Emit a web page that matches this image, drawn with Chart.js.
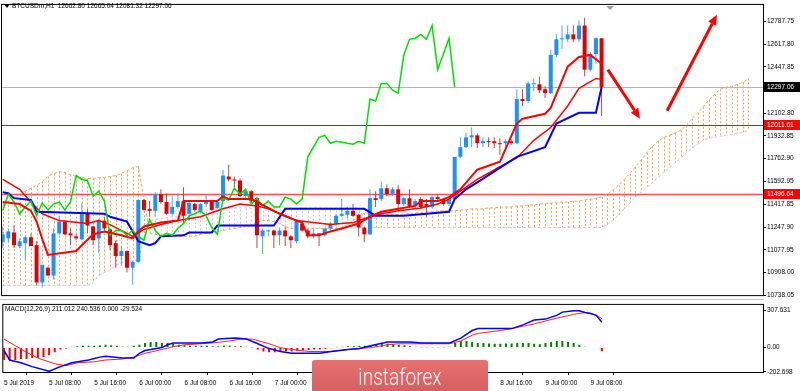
<!DOCTYPE html>
<html>
<head>
<meta charset="utf-8">
<script src="https://cdn.jsdelivr.net/npm/chart.js@4.4.1/dist/chart.umd.min.js"></script>
<style>
  body { margin: 0; background: #fff; width: 800px; height: 391px; overflow: hidden; position: relative; }
  canvas { position: absolute; left: 0; }
  #main { top: 0; }
  #macd { top: 300px; }
</style>
</head>
<body>
<canvas id="main" width="800" height="300"></canvas>
<canvas id="macd" width="800" height="91"></canvas>
<script>
// --- Hourly BTCUSD candles, 5 Jul 00:00 .. 9 Jul 10:00 ---
const opens = [11136, 11165, 11209, 11107, 11129, 11173, 11114, 10835, 10945, 10887,
  11202, 11290, 11202, 11180, 11158, 11356, 11254, 11165, 11298, 11232,
  11129, 11033, 11070, 10945, 10989, 11452, 11386, 11371, 11496, 11437,
  11349, 11400, 11444, 11349, 11422, 11371, 11422, 11437, 11393, 11444,
  11628, 11606, 11598, 11481, 11518, 11466, 11180, 11217, 11224, 11188,
  11224, 11180, 11143, 11276, 11224, 11180, 11202, 11188, 11239, 11276,
  11334, 11342, 11371, 11342, 11246, 11195, 11466, 11459, 11540, 11496,
  11532, 11422, 11466, 11408, 11459, 11422, 11400, 11474, 11459, 11422,
  11459, 11775, 11848, 11921, 11936, 11877, 11892, 11892, 11877, 11877,
  11892, 11877, 12208, 12193, 12318, 12318, 12281, 12252, 12538, 12655,
  12655, 12692, 12655, 12758, 12428, 12545, 12662.80];
const highs = [11253, 11239, 11261, 11165, 11180, 11202, 11143, 10967, 10950, 11239,
  11334, 11298, 11239, 11202, 11430, 11386, 11261, 11312, 11327, 11239,
  11151, 11107, 11075, 10997, 11452, 11459, 11444, 11510, 11532, 11503,
  11481, 11503, 11547, 11437, 11430, 11430, 11496, 11444, 11444, 11679,
  11716, 11628, 11613, 11532, 11525, 11474, 11239, 11232, 11232, 11246,
  11254, 11188, 11312, 11280, 11239, 11239, 11205, 11239, 11290, 11349,
  11459, 11400, 11422, 11349, 11254, 11532, 11518, 11591, 11569, 11547,
  11562, 11474, 11532, 11459, 11474, 11459, 11488, 11488, 11466, 11496,
  11775, 11921, 11958, 11995, 11951, 11921, 11921, 11921, 11914, 11907,
  11907, 12281, 12281, 12340, 12362, 12377, 12303, 12575, 12692, 12758,
  12758, 12758, 12795, 12817, 12560, 12670, 12665.04];
const lows = [11092, 11136, 11092, 11092, 11004, 11107, 10813, 10798, 10887, 10857,
  11188, 11188, 11114, 11151, 11150, 11202, 11114, 11055, 11224, 11077,
  10945, 10960, 10909, 10820, 10982, 11371, 11327, 11327, 11422, 11342,
  11334, 11386, 11276, 11298, 11364, 11356, 11400, 11371, 11386, 11437,
  11591, 11547, 11474, 11459, 11422, 11092, 11048, 11180, 11092, 11114,
  11107, 11092, 11129, 11217, 11165, 11165, 11107, 11180, 11224, 11261,
  11327, 11312, 11327, 11180, 11136, 11190, 11400, 11444, 11481, 11481,
  11364, 11408, 11400, 11393, 11386, 11327, 11386, 11444, 11408, 11408,
  11455, 11767, 11841, 11848, 11841, 11848, 11848, 11841, 11789, 11848,
  11863, 11870, 12156, 12178, 12266, 12252, 12215, 12244, 12523, 12582,
  12633, 12633, 12633, 12377, 12413, 12472, 12081.32];
const closes = [11195, 11217, 11114, 11143, 11173, 11107, 10835, 10967, 10887, 11202,
  11290, 11195, 11188, 11165, 11356, 11261, 11151, 11298, 11239, 11114,
  11033, 11070, 10945, 10989, 11452, 11378, 11371, 11496, 11437, 11349,
  11400, 11444, 11334, 11430, 11378, 11422, 11437, 11378, 11437, 11635,
  11606, 11598, 11481, 11518, 11444, 11188, 11224, 11224, 11188, 11224,
  11180, 11151, 11305, 11224, 11180, 11202, 11188, 11239, 11276, 11334,
  11349, 11371, 11334, 11246, 11195, 11466, 11452, 11540, 11496, 11532,
  11422, 11466, 11408, 11444, 11400, 11400, 11474, 11459, 11422, 11459,
  11775, 11848, 11921, 11936, 11877, 11892, 11885, 11877, 11870, 11892,
  11877, 12208, 12193, 12325, 12325, 12274, 12252, 12538, 12655, 12663,
  12692, 12655, 12758, 12428, 12545, 12663, 12297.06];

// --- Ichimoku lines, [bar index, price] ---
const tenkanPts = [[0,11437],[3,11422],[5,11371],[6,11290],[7,11160],[8,11041],[13,11070],[14,11114],
  [16,11195],[18,11217],[21,11188],[23,11165],[24,11217],[25,11254],[28,11283],[31,11298],[32,11444],
  [38,11444],[39,11481],[40,11459],[44,11459],[49,11349],[52,11298],[53,11283],[54,11188],[56,11188],
  [58,11217],[60,11239],[63,11276],[65,11327],[67,11364],[70,11386],[73,11408],[74,11444],[77,11444],
  [79,11474],[81,11532],[84,11679],[88,11738],[91,12024],[92,12061],[96,12098],[97,12142],[100,12450],
  [102,12523],[104,12538],[106,12472]];
const kijunPts = [[0,11510],[1,11503],[2,11466],[5,11452],[6,11364],[18,11349],[19,11327],[22,11290],
  [24,11143],[26,11114],[27,11129],[28,11180],[32,11188],[33,11209],[37,11209],[38,11261],[48,11261],
  [50,11386],[64,11386],[66,11334],[71,11334],[79,11364],[80,11459],[82,11532],[84,11584],[91,11775],
  [96,11848],[98,12024],[102,12105],[105,12105],[106,12296]];
const maPts = [[0,11606],[3,11532],[5,11437],[7,11349],[10,11298],[15,11276],[17,11298],[19,11268],
  [22,11202],[23,11180],[25,11232],[28,11268],[31,11298],[35,11327],[39,11386],[42,11422],[45,11408],
  [47,11386],[50,11334],[52,11298],[58,11268],[62,11283],[64,11312],[67,11349],[70,11371],[74,11393],
  [77,11422],[79,11459],[81,11518],[84,11606],[88,11701],[91,11767],[94,11899],[97,11995],[100,12156],
  [102,12288],[105,12362],[106,12355]];
// chikou span, one value per bar starting at bar 0
const chikou = [11371, 11496, 11437, 11349, 11400, 11444, 11334, 11430, 11378, 11422, 11437, 11378, 11437,
  11635, 11606, 11598, 11481, 11518, 11444, 11188, 11224, 11224, 11188, 11224, 11180,
  11151, 11305, 11224, 11180, 11202, 11188, 11239, 11276, 11334, 11349, 11371, 11334, 11246, 11195,
  11466, 11452, 11540, 11496, 11532, 11422, 11466, 11408, 11444, 11400, 11400, 11474, 11459, 11422, 11459,
  11775, 11848, 11921, 11936, 11877, 11892, 11885, 11877, 11870, 11892, 11877,
  12208, 12193, 12325, 12325, 12274, 12252, 12538, 12655, 12663, 12692, 12655, 12758, 12428, 12545, 12663, 12297.06];
// senkou spans, one value per bar (bars 0..132)
const spanA = [11422, 11444, 11474, 11496, 11518, 11540, 11562, 11591, 11628, 11650, 11664, 11657, 11642,
  11628, 11620, 11613, 11613, 11620, 11620, 11628, 11635, 11650, 11672, 11694, 11701, 11459,
  11202, 11195, 11188, 11180, 11180, 11180, 11180, 11180, 11180,
  11195, 11202, 11209, 11217, 11224, 11232, 11239, 11246, 11254, 11261,
  11283, 11298, 11298, 11290, 11276, 11254,
  11239, 11232, 11232, 11232, 11239, 11239, 11239, 11239, 11239,
  11246, 11268, 11298, 11327, 11356,
  11356, 11349, 11349, 11342, 11342, 11342, 11349, 11349, 11356, 11356, 11364, 11364, 11371, 11371, 11371, 11371,
  11378, 11378, 11386, 11386, 11386, 11393, 11393, 11400, 11400, 11400, 11408, 11408, 11415, 11415, 11422,
  11422, 11430, 11430, 11437, 11437, 11444, 11444, 11452, 11459, 11466, 11474,
  11496, 11525, 11562, 11606, 11650, 11701, 11753, 11804, 11855, 11892, 11921, 11936, 11951, 11973, 12010,
  12061, 12105, 12149, 12200, 12244, 12281, 12296, 12303, 12318, 12332, 12362];
const spanB = [10813, 10813, 10813, 10813, 10813, 10813, 10813, 10813, 10813, 10813, 10813, 10813, 10813,
  10813, 10813, 10813, 10835, 10887, 10909, 10931, 10960, 10982, 10989, 10997, 11004, 11165,
  11298, 11305, 11312, 11320, 11327, 11327, 11334, 11349, 11356, 11364, 11371, 11378, 11386,
  11393, 11393, 11393, 11393, 11393, 11393, 11393, 11393, 11393, 11393, 11393, 11393, 11393,
  11393, 11393, 11393, 11393, 11393, 11393, 11393, 11393, 11393, 11393, 11393, 11393, 11312,
  11246, 11246, 11246, 11246, 11246, 11246, 11246, 11246, 11246, 11246, 11246, 11246, 11246, 11246,
  11246, 11246, 11246, 11246, 11246, 11246, 11246, 11246, 11246, 11246, 11246, 11246, 11246, 11246,
  11246, 11246, 11246, 11246, 11246, 11246, 11246, 11246, 11246, 11246, 11246, 11246, 11246, 11246,
  11268, 11298, 11342, 11386, 11430, 11474, 11510, 11547, 11584, 11620, 11657, 11694, 11731,
  11767, 11804, 11841, 11870, 11899, 11914, 11921, 11929, 11936, 11943, 11951, 11958, 11973];

// --- Levels and drawn arrows ---
const levels = [12297.06, 12011.61, 11496.64];
const arrows = [[107.1, 12428, 112.8, 12061], [117.6, 12120, 126.4, 12839]];

// --- MACD(12,26,9) ---
const macdPts = [[0,-24],[1,-103],[3,-126],[5,-158],[8,-197],[10,-158],[12,-126],[15,-103],[17,-79],
  [18,-71],[21,-87],[23,-87],[24,-47],[25,-24],[28,0],[29,24],[30,39],[35,39],[37,47],[38,71],[41,79],
  [43,71],[45,32],[47,-8],[49,-32],[51,-47],[56,-47],[58,-32],[61,-16],[63,-8],[65,16],[68,47],[72,47],
  [74,39],[79,39],[81,79],[83,142],[84,158],[90,158],[92,189],[94,229],[96,237],[98,268],[99,295],
  [101,307],[102,307],[103,292],[104,284],[105,268],[106,211.012]];
const signalPts = [[0,71],[2,16],[4,-39],[6,-87],[9,-134],[11,-150],[13,-126],[16,-118],[18,-103],
  [21,-95],[23,-79],[25,-47],[28,-16],[30,8],[32,24],[35,32],[37,39],[40,55],[42,71],[44,71],[47,32],
  [49,0],[51,-16],[54,-32],[58,-32],[61,-16],[63,-8],[65,0],[68,24],[70,32],[79,32],[81,55],[83,103],
  [84,118],[88,142],[90,158],[94,197],[96,221],[98,245],[101,276],[103,292],[104,284],[105,268],[106,240.536]];
const histogram = [-103, -103, -103, -95, -95, -87, -87, -79, -63, -39, -16, -8,
  8, 12, 16, 16, 16, 20, 24, 20, 16, 8, 8, 16, 24,
  39, 47, 47, 39, 39, 32, 24, 20, 16, 16, 16, 16, 12, 12, 16, 16, 12, 12, 8, 4,
  -16, -32, -39, -39, -35, -32, -32, -28, -24, -20, -16, -16, -12, -6, 4,
  8, 12, 12, 16, 16, 20, 28, 32, 32, 28, 24, 20, 12, 8, 4, 4, 4, 4, 4, 8,
  39, 55, 55, 47, 39, 39, 35, 32, 32, 35, 35, 39, 39, 39, 32, 28, 39, 47, 55, 55, 47, 39, 24, 8, 0, 0, -29.524];

// --- Axis ticks ---
const priceTicks = [12787.75, 12617.80, 12447.85, 12277.90, 12102.80, 11932.85, 11762.90,
  11592.95, 11417.85, 11247.90, 11077.95, 10908.00, 10738.05];
const macdTicks = [307.631, 0, -202.698];
const macdTickLabels = ['307.631', '0.00', '-202.698'];
const dateTicks = [0, 8, 16, 24, 32, 40, 48, 56, 64, 72, 80, 88, 96, 104];
const dateLabels = ['5 Jul 2019', '5 Jul 08:00', '5 Jul 16:00', '6 Jul 00:00', '6 Jul 08:00', '6 Jul 16:00',
  '7 Jul 00:00', '7 Jul 08:00', '7 Jul 16:00', '8 Jul 00:00', '8 Jul 08:00', '8 Jul 16:00',
  '9 Jul 00:00', '9 Jul 08:00'];

// --- Shared look ---
const X_MIN = -0.124, X_MAX = 134.57;
const AXIS_W = 37;
const FONT = 'Liberation Sans';
const smallFont = { family: FONT, size: 6.5 };
const bullColor = '#1e90ff', bearColor = '#e00000';
const isBull = i => closes[i] >= opens[i];
const toXY = pts => pts.map(p => ({ x: p[0], y: p[1] }));
const seq = arr => arr.map((v, i) => ({ x: i, y: v }));

function axisY(min, max, ticks, labelFn) {
  return {
    position: 'right', min, max, beginAtZero: false,
    afterBuildTicks: s => { s.ticks = ticks.map(v => ({ value: v })); },
    afterFit: s => { s.width = AXIS_W; },
    ticks: { callback: labelFn, font: smallFont, color: '#000', padding: 1 },
    grid: { drawOnChartArea: false, tickLength: 3, color: '#000' },
    border: { color: '#000' }
  };
}

function drawArrow(ctx, x1, y1, x2, y2) {
  const ang = Math.atan2(y2 - y1, x2 - x1);
  const head = 10, half = 4.5;
  const bx = x2 - head * Math.cos(ang), by = y2 - head * Math.sin(ang);
  ctx.strokeStyle = ctx.fillStyle = '#ff0000';
  ctx.lineWidth = 3;
  ctx.beginPath(); ctx.moveTo(x1, y1); ctx.lineTo(bx, by); ctx.stroke();
  ctx.beginPath();
  ctx.moveTo(x2, y2);
  ctx.lineTo(bx + half * Math.sin(ang), by - half * Math.cos(ang));
  ctx.lineTo(bx - half * Math.sin(ang), by + half * Math.cos(ang));
  ctx.closePath(); ctx.fill();
}

// --- Main panel extras: cloud hatching, levels, arrows, labels ---
const mainDecor = {
  id: 'mainDecor',
  beforeDatasetsDraw(chart) {
    const { ctx, chartArea: a, scales: { x, y } } = chart;
    ctx.save();
    ctx.beginPath(); ctx.rect(a.left, a.top, a.right - a.left, a.bottom - a.top); ctx.clip();
    ctx.lineWidth = 1;
    ctx.setLineDash([2, 2]);
    spanA.forEach((va, i) => {
      const px = Math.round(x.getPixelForValue(i)) + 0.5;
      ctx.strokeStyle = va >= spanB[i] ? '#f4a460' : '#d8bfd8';
      ctx.beginPath();
      ctx.moveTo(px, y.getPixelForValue(va));
      ctx.lineTo(px, y.getPixelForValue(spanB[i]));
      ctx.stroke();
    });
    ctx.setLineDash([]);
    const levelColors = ['#b4b4b4', '#ff0000', '#ff4c4c'];
    levels.forEach((v, k) => {
      const py = Math.round(y.getPixelForValue(v)) + 0.5;
      ctx.strokeStyle = levelColors[k];
      ctx.lineWidth = k === 2 ? 1.5 : 1;
      ctx.beginPath(); ctx.moveTo(a.left, py); ctx.lineTo(a.right, py); ctx.stroke();
    });
    ctx.restore();
  },
  afterDraw(chart) {
    const { ctx, chartArea: a, scales: { x, y } } = chart;
    ctx.save();
    arrows.forEach(r => drawArrow(ctx, x.getPixelForValue(r[0]), y.getPixelForValue(r[1]),
      x.getPixelForValue(r[2]), y.getPixelForValue(r[3])));

    // frame
    ctx.strokeStyle = '#000'; ctx.lineWidth = 1;
    ctx.strokeRect(a.left - 0.5, a.top - 0.5, a.right - a.left + 1, a.bottom - a.top + 1);
    ctx.fillStyle = '#c4c4c4';
    ctx.fillRect(0, 299, a.right + 1, 1);

    // shift marker
    const mx = x.getPixelForValue(107.5);
    ctx.fillStyle = '#a0a0a0';
    ctx.beginPath(); ctx.moveTo(mx - 4, a.top + 1); ctx.lineTo(mx + 4, a.top + 1); ctx.lineTo(mx, a.top + 5); ctx.fill();

    // price boxes on the axis
    ctx.font = `${smallFont.size}px ${FONT}`;
    ctx.textBaseline = 'middle';
    const boxColors = ['#000000', '#ff0000', '#ff0000'];
    levels.forEach((v, k) => {
      const py = Math.round(y.getPixelForValue(v));
      ctx.fillStyle = boxColors[k];
      ctx.fillRect(a.right + 1, py - 5, 800 - a.right - 1, 10);
      ctx.fillStyle = '#fff';
      ctx.fillText(v.toFixed(2), a.right + 4, py + 0.5);
    });

    // header
    const n = opens.length - 1;
    ctx.fillStyle = '#000';
    ctx.beginPath(); ctx.moveTo(4, 4); ctx.lineTo(10, 4); ctx.lineTo(7, 8); ctx.fill();
    ctx.fillText(`BTCUSDm,H1  ${opens[n].toFixed(2)} ${highs[n].toFixed(2)} ${lows[n].toFixed(2)} ${closes[n].toFixed(2)}`, 12, 6.5);
    ctx.restore();
  }
};

new Chart(document.getElementById('main'), {
  type: 'bar',
  data: {
    datasets: [
      { type: 'line', data: toXY(tenkanPts), borderColor: '#ff0000', borderWidth: 2, pointRadius: 0, order: 1 },
      { type: 'line', data: seq(chikou), borderColor: '#00e000', borderWidth: 1.5, pointRadius: 0, order: 1 },
      { type: 'line', data: toXY(kijunPts), borderColor: '#0000ff', borderWidth: 2, pointRadius: 0, order: 2 },
      { type: 'line', data: toXY(maPts), borderColor: '#ff0000', borderWidth: 1.5, pointRadius: 0, order: 2 },
      { data: opens.map((o, i) => ({ x: i, y: [o, closes[i]] })),
        backgroundColor: c => isBull(c.dataIndex) ? bullColor : bearColor,
        maxBarThickness: 4, grouped: false, minBarLength: 1, order: 3 },
      { data: lows.map((l, i) => ({ x: i, y: [l, highs[i]] })),
        backgroundColor: c => isBull(c.dataIndex) ? '#4aa3ff' : '#c04848',
        maxBarThickness: 1, grouped: false, order: 4 },
      { type: 'line', data: seq(spanA), borderColor: '#f4a460', borderWidth: 1, borderDash: [3, 2], pointRadius: 0, order: 5 },
      { type: 'line', data: seq(spanB), borderColor: '#d8bfd8', borderWidth: 1, borderDash: [3, 2], pointRadius: 0, order: 5 }
    ]
  },
  options: {
    responsive: false, animation: false, devicePixelRatio: 1,
    layout: { padding: { left: 2, top: 2, right: 0, bottom: 2 } },
    plugins: { legend: { display: false }, tooltip: { enabled: false } },
    scales: {
      x: { type: 'linear', min: X_MIN, max: X_MAX, offset: false, display: false },
      y: axisY(10740.3, 12912.5, priceTicks, v => v.toFixed(2))
    }
  },
  plugins: [mainDecor]
});

// --- MACD panel extras: title, frame, watermark ---
const macdDecor = {
  id: 'macdDecor',
  afterDraw(chart) {
    const { ctx, chartArea: a } = chart;
    ctx.save();
    ctx.strokeStyle = '#000'; ctx.lineWidth = 1;
    ctx.strokeRect(a.left - 0.5, a.top - 0.5, a.right - a.left + 1, a.bottom - a.top + 1);
    const m = macdPts[macdPts.length - 1][1], s = signalPts[signalPts.length - 1][1];
    const h = histogram.length;
    ctx.fillStyle = '#000';
    ctx.font = `${smallFont.size}px ${FONT}`;
    ctx.textBaseline = 'middle';
    ctx.fillText(`MACD(12,26,9) ${m.toFixed(3)} ${s.toFixed(3)} ${histogram[h - 2].toFixed(3)} ${histogram[h - 1].toFixed(3)}`, 5, 9);

    // watermark
    const g = ctx.createLinearGradient(0, 60, 0, 91);
    g.addColorStop(0, '#e77272');
    g.addColorStop(1, '#d65f5f');
    ctx.fillStyle = g;
    ctx.beginPath();
    ctx.roundRect(312, 60, 176, 34, 3);
    ctx.fill();
    ctx.fillStyle = 'rgba(255,255,255,0.95)';
    ctx.font = '300 23px Roboto';
    ctx.textAlign = 'center';
    ctx.textBaseline = 'alphabetic';
    ctx.translate(400, 85);
    ctx.scale(0.83, 1);
    ctx.fillText('instaforex', 0, 0);
    ctx.restore();
  }
};

new Chart(document.getElementById('macd'), {
  type: 'bar',
  data: {
    datasets: [
      { type: 'line', data: toXY(macdPts), borderColor: '#0000ff', borderWidth: 1.5, pointRadius: 0, order: 1 },
      { type: 'line', data: toXY(signalPts), borderColor: '#ff2020', borderWidth: 1, pointRadius: 0, order: 1 },
      { data: seq(histogram),
        backgroundColor: c => histogram[c.dataIndex] >= 0 ? '#008000' : '#ff0000',
        maxBarThickness: 2, grouped: false, order: 2 }
    ]
  },
  options: {
    responsive: false, animation: false, devicePixelRatio: 1,
    layout: { padding: { left: 2, top: 2, right: 0, bottom: 0 } },
    plugins: { legend: { display: false }, tooltip: { enabled: false } },
    scales: {
      x: {
        type: 'linear', min: X_MIN, max: X_MAX, offset: false,
        afterBuildTicks: s => { s.ticks = dateTicks.map(v => ({ value: v })); },
        afterFit: s => { s.height = 19; },
        ticks: { callback: v => dateLabels[dateTicks.indexOf(v)], align: 'start', autoSkip: false,
                 maxRotation: 0, font: smallFont, color: '#000', padding: 4 },
        grid: { drawOnChartArea: false, tickLength: 3, color: '#000' },
        border: { color: '#000' }
      },
      y: axisY(-202.7, 355, macdTicks, v => macdTickLabels[macdTicks.indexOf(v)])
    }
  },
  plugins: [macdDecor]
});
</script>
</body>
</html>
